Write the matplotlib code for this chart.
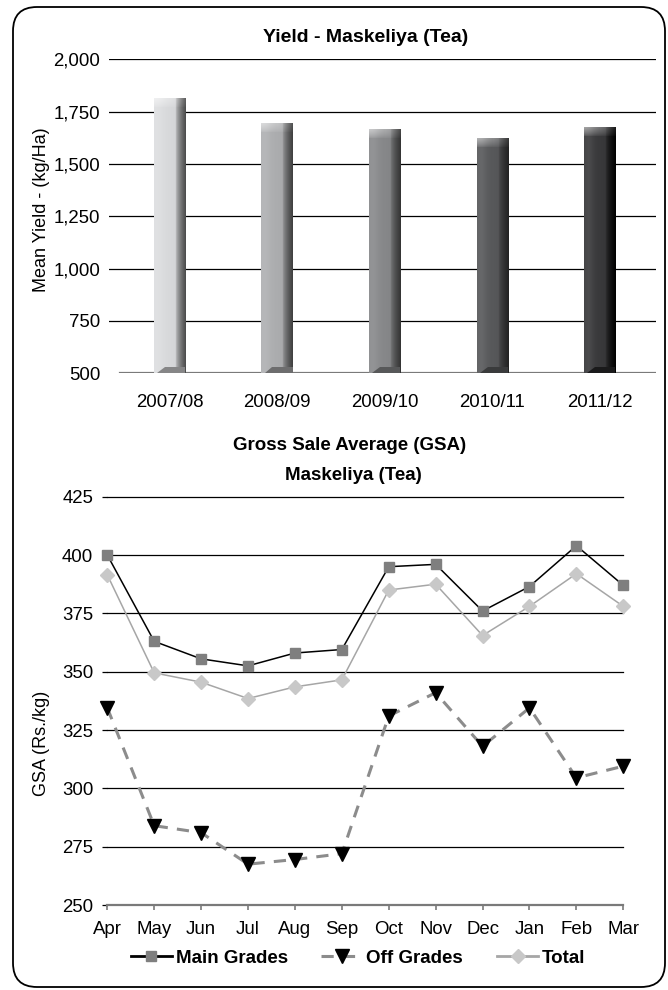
import numpy as np
import matplotlib
matplotlib.use('Agg')
from matplotlib import pyplot as plt
from matplotlib.patches import FancyBboxPatch, Polygon
from matplotlib.lines import Line2D

# yield per season
seasons = ['2007/08', '2008/09', '2009/10', '2010/11', '2011/12']
yield_kg = [1810, 1690, 1665, 1620, 1675]

# monthly gross sale average
months = ['Apr', 'May', 'Jun', 'Jul', 'Aug', 'Sep', 'Oct', 'Nov', 'Dec', 'Jan', 'Feb', 'Mar']
main_grades = [400, 363, 355.5, 352.5, 358, 359.5, 395, 396, 376, 386.5, 404, 387]
off_grades = [334.5, 284, 281, 267.5, 269.5, 272, 331, 341, 318, 334.5, 304.5, 309.5]
total = [391.5, 349.5, 345.5, 338.5, 343.5, 346.5, 385, 387.5, 365.5, 378, 392, 378]

W, H = 668, 990
plain = ['Liberation Sans', 'DejaVu Sans']
narrow = ['Liberation Sans Narrow', 'Liberation Sans', 'DejaVu Sans']
plt.rcParams['font.family'] = plain

fig = plt.figure(figsize=(W / 100, H / 100), dpi=100, facecolor='white')


def px_box(left, top, right, bottom):
    # pixel box (from top-left) -> figure fraction rect
    return [left / W, 1 - bottom / H, (right - left) / W, (bottom - top) / H]


# outer rounded frame
fig.add_artist(FancyBboxPatch((13, 3), 652, 980, boxstyle='round,pad=0,rounding_size=24',
                              transform=None, fill=False, ec='black', lw=1.3))

# ---------- top: yield bars ----------
ax1 = fig.add_axes(px_box(109.3, 59.3, 655.7, 373.3))
ymin1, ymax1 = 500, 2000
for s in ax1.spines.values():
    s.set_visible(False)
yt = np.arange(500, 2001, 250)
ax1.set_yticks(yt)
ax1.set_yticklabels([f'{v:,}' for v in yt])
for v in yt[1:]:
    ax1.axhline(v, color='black', lw=0.9, zorder=1)
ax1.axhline(500, xmin=(120 - 109.3) / 546.4, color='#7a7a7a', lw=1.6, zorder=1)
ax1.set_xticks(range(len(seasons)))
ax1.set_xticklabels(seasons)
ax1.tick_params(axis='y', length=0, pad=6.5, labelsize=13.4)
ax1.tick_params(axis='x', length=0, pad=15, labelsize=13.4)

fronts = ['#dfe0e2', '#b3b4b6', '#8e8f91', '#5f6062', '#414143']
sides = ['#4a4a4a', '#3e3e3e', '#333333', '#222222', '#000000']
bw = 0.29
px_per_unit = 314.0 / 1500  # vertical pixels per kg/Ha


def hex_rgb(c):
    return np.array(matplotlib.colors.to_rgb(c))


ncol = 31  # about one column per screen pixel
for i, v in enumerate(yield_kg):
    f, sd = hex_rgb(fronts[i]), hex_rgb(sides[i])
    nrow = int(round((v - ymin1) * px_per_unit))
    t = (np.arange(ncol) + 0.5) / ncol
    # front face fades into the darker side face, darkest at the right edge
    hl = 0.06 * np.exp(-((t - 0.15) / 0.15) ** 2)
    s = np.clip((t - 0.66) / 0.34, 0, 1) ** 0.6
    front_col = f[None, :] + (1 - f[None, :]) * hl[:, None] - 0.04 * np.minimum(t, 0.66)[:, None] / 0.66
    cols = front_col * (1 - s[:, None]) + sd[None, :] * s[:, None]
    cols = np.clip(cols, 0, 1)
    img = np.repeat(cols[None, :, :], nrow, axis=0)
    # lighter bevel along the top
    d = nrow - 1 - np.arange(nrow)
    k = np.where(d < 9, 0.5 * np.clip(1 - d / 9, 0, 1) ** 0.7, 0)
    img = img + (1 - img) * k[:, None, None] * np.linspace(1, 0.2, ncol)[None, :, None]
    x0, x1 = i - bw / 2, i + bw / 2
    ax1.imshow(img, extent=(x0, x1, ymin1, v), origin='lower', aspect='auto',
               interpolation='nearest', zorder=3)
    # dark base wedge
    hb = 6 / px_per_unit
    ax1.add_patch(Polygon([(x0 + 0.1 * bw, ymin1), (x1, ymin1), (x1, ymin1 + hb),
                           (x0 + 0.35 * bw, ymin1 + hb)], closed=True,
                          color=sd * 0.6 + f * 0.4, lw=0, zorder=4))

ax1.set_xlim(-0.56, 4.52)
ax1.set_ylim(ymin1, ymax1)
fig.text(366 / W, 1 - 37.5 / H, 'Yield - Maskeliya (Tea)', ha='center', va='center',
         fontsize=14, fontweight='bold', family=narrow)
fig.text(42 / W, 1 - 210 / H, 'Mean Yield - (kg/Ha)', rotation=90, ha='center',
         va='center', fontsize=13)

# ---------- bottom: gross sale average ----------
ax2 = fig.add_axes(px_box(107.3, 496.7, 623.3, 905))
x = np.arange(len(months))
ax2.set_xlim(0, len(months) - 1)
ax2.set_ylim(250, 425)
for key in ['top', 'right', 'left']:
    ax2.spines[key].set_visible(False)
ax2.spines['bottom'].set_color('#7a7a7a')
ax2.spines['bottom'].set_linewidth(1.6)
ax2.set_yticks(np.arange(250, 426, 25))
for v in np.arange(275, 426, 25):
    ax2.axhline(v, color='black', lw=0.9, zorder=1, clip_on=False)
ax2.set_xticks(x)
ax2.set_xticklabels(months)
ax2.tick_params(axis='y', direction='out', length=3.6, width=0.9, color='black',
                pad=6.5, labelsize=13.4)
ax2.tick_params(axis='x', direction='out', length=3.6, width=1.2, color='#7a7a7a',
                pad=8, labelsize=13.4)

ax2.plot(x, main_grades, color='black', lw=1.1, marker='s', ms=7,
         mfc='#7f7f7f', mec='#7f7f7f', zorder=4, clip_on=False)
ax2.plot(x, off_grades, color='#8c8c8c', lw=2.2, ls=(0, (4, 3)), marker='v', ms=10.5,
         mfc='black', mec='black', zorder=5, clip_on=False)
ax2.plot(x, total, color='#a6a6a6', lw=1.1, marker='D', ms=7,
         mfc='#c8c8c8', mec='#c8c8c8', zorder=6, clip_on=False)

fig.text(350 / W, 1 - 445.5 / H, 'Gross Sale Average (GSA)', ha='center', va='center',
         fontsize=13.5, fontweight='bold', family=narrow)
fig.text(353 / W, 1 - 475 / H, 'Maskeliya (Tea)', ha='center', va='center',
         fontsize=13.5, fontweight='bold', family=narrow)
fig.text(42 / W, 1 - 743 / H, 'GSA (Rs./kg)', rotation=90, ha='center',
         va='center', fontsize=13)

handles = [
    Line2D([], [], color='black', lw=2, marker='s', ms=7, mfc='#7f7f7f', mec='#7f7f7f'),
    Line2D([], [], color='#8c8c8c', lw=2.2, ls=(0, (4, 3)), marker='v', ms=10.5,
           mfc='black', mec='black'),
    Line2D([], [], color='#a6a6a6', lw=2, marker='D', ms=7, mfc='#c8c8c8', mec='#c8c8c8'),
]
fig.legend(handles, ['Main Grades', 'Off Grades', 'Total'], loc='center',
           bbox_to_anchor=(358 / W, 1 - 958 / H), ncol=3, frameon=False,
           handlelength=2.2, handletextpad=0.2, columnspacing=1.8,
           prop={'family': narrow, 'weight': 'bold', 'size': 13.5})

fig.savefig('out.png', dpi=100, facecolor='white')
